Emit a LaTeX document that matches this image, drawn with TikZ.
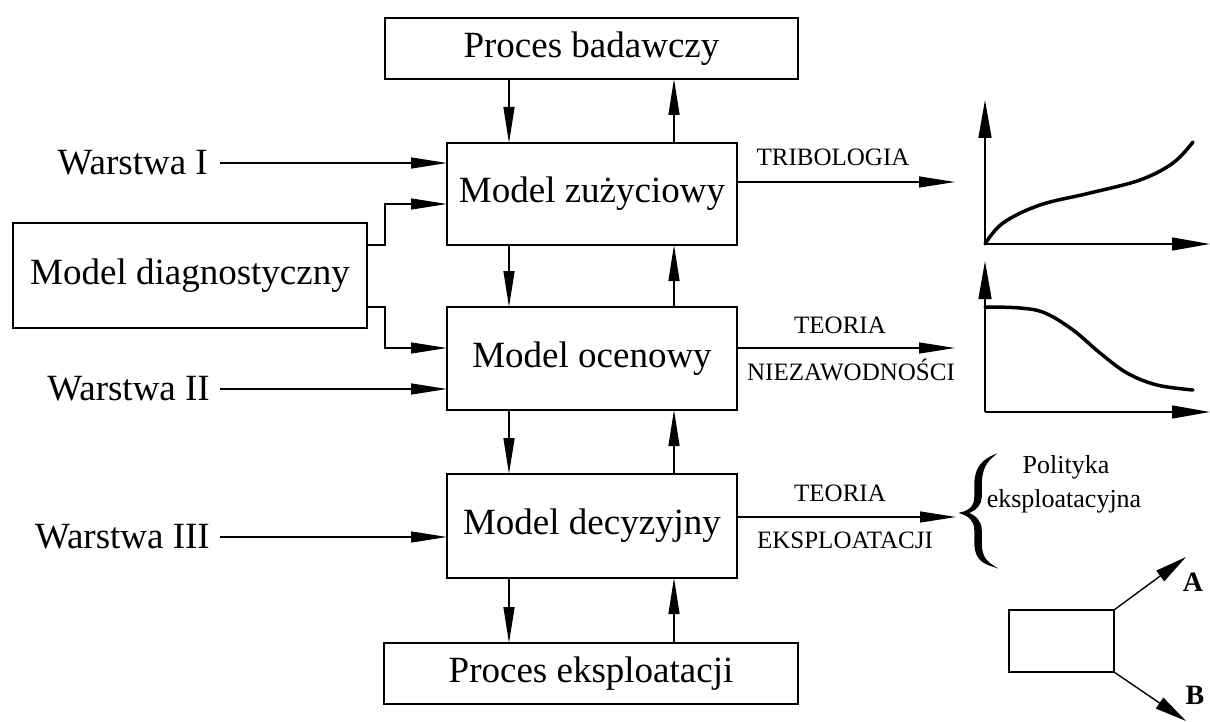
\documentclass[tikz,border=0pt]{standalone}
\usepackage{fontspec}
\setmainfont{Liberation Serif}
\usetikzlibrary{arrows.meta}
\newcommand{\bigfnt}{\fontsize{37}{40}\selectfont}
\newcommand{\smallfnt}{\fontsize{25}{28}\selectfont}
\newcommand{\polfnt}{\fontsize{26}{29}\selectfont}
\tikzset{
  box/.style={draw, line width=1.6pt, inner sep=0pt, outer sep=0pt, font=\bigfnt, fill=white},
  arr/.style={line width=1.3pt, -{Triangle[length=36pt,width=11pt]}},
  axarr/.style={line width=1.4pt, -{Triangle[length=38pt,width=13pt]}},
  abarr/.style={line width=1.4pt, -{Triangle[length=32pt,width=13pt]}},
  curve/.style={line width=3.5pt, line cap=round},
  lbl/.style={font=\smallfnt, inner sep=0pt},
  wlbl/.style={font=\bigfnt, anchor=east, inner sep=0pt},
}
\begin{document}
\begin{tikzpicture}[x=1pt,y=-1pt]
\useasboundingbox (0,0) rectangle (1210,722);
% main boxes
\node[box, minimum width=413pt, minimum height=61pt] (pb) at (591.5,48.5) {Proces badawczy};
\node[box, minimum width=290pt, minimum height=102pt] (mz) at (592,194) {Model zużyciowy};
\node[box, minimum width=290pt, minimum height=103pt] (mo) at (592,358.5) {Model ocenowy};
\node[box, minimum width=290pt, minimum height=104pt] (md) at (592,526) {Model decyzyjny};
\node[box, minimum width=414pt, minimum height=61pt] (pe) at (591,673.5) {Proces eksploatacji};
\node[box, minimum width=354pt, minimum height=105pt] (diag) at (190,275.5) {Model diagnostyczny};
% vertical connector columns
\coordinate (cd) at (509,0);
\coordinate (cu) at (674,0);
\draw[arr] (pb.south -| cd) -- (mz.north -| cd);
\draw[arr] (mz.north -| cu) -- (pb.south -| cu);
\draw[arr] (mz.south -| cd) -- (mo.north -| cd);
\draw[arr] (mo.north -| cu) -- (mz.south -| cu);
\draw[arr] (mo.south -| cd) -- (md.north -| cd);
\draw[arr] (md.north -| cu) -- (mo.south -| cu);
\draw[arr] (md.south -| cd) -- (pe.north -| cd);
\draw[arr] (pe.north -| cu) -- (md.south -| cu);
% Warstwy
\node[wlbl] (w1) at (208,163) {Warstwa I};
\node[wlbl] (w2) at (210,389) {Warstwa II};
\node[wlbl] (w3) at (210,537) {Warstwa III};
\draw[arr] ([xshift=12pt]w1.east) -- (w1.east -| mz.west);
\draw[arr] ([xshift=10pt]w2.east) -- (w2.east -| mo.west);
\draw[arr] ([xshift=10pt]w3.east) -- (w3.east -| md.west);
% diagnostic links
\draw[arr] (diag.east |- 0,245) -- (385,245) -- (385,204) -- (mz.west |- 0,204);
\draw[arr] (diag.east |- 0,307) -- (385,307) -- (385,348) -- (mo.west |- 0,348);
% right arrows
\coordinate (t1) at (955,182);
\coordinate (t2) at (955,348);
\coordinate (t3) at (956,517);
\draw[arr] (mz.east |- t1) -- (t1);
\draw[arr] (mo.east |- t2) -- (t2);
\draw[arr] (md.east |- t3) -- (t3);
\node[lbl] (l1) at (833,157) {TRIBOLOGIA};
\node[lbl] (l2) at (840,325) {TEORIA};
\node[lbl] (l3) at (851,370) {NIEZAWODNOŚCI};
\node[lbl] (l4) at (840,493) {TEORIA};
\node[lbl] (l5) at (845,540) {EKSPLOATACJI};
% graph 1
\coordinate (o1) at (985,244);
\draw[axarr] (o1) -- (985,100);
\draw[axarr] (o1) -- (1210,244);
\draw[curve] plot[smooth, tension=0.6] coordinates {(985,244) (1003,223) (1040,205) (1090,193) (1140,180) (1173,163) (1193,142)};
% graph 2
\coordinate (o2) at (985,412);
\draw[axarr] (o2) -- (985,261);
\draw[axarr] (o2) -- (1210,412);
\draw[curve] plot[smooth, tension=0.6] coordinates {(985,307) (1020,308) (1045,313) (1073,330) (1100,353) (1127,373) (1157,385) (1193,390)};
% brace
\draw[line width=1.5pt, line cap=round, fill=black]
  (993,456) .. controls (979,462) and (975,472) .. (975,486)
  -- (975,497) .. controls (975,506) and (970,511) .. (961,513)
  .. controls (970,516) and (975,521) .. (975,530)
  -- (975,541) .. controls (975,555) and (979,562) .. (993,566)
  .. controls (983,560) and (981,553) .. (981,541)
  -- (981,530) .. controls (981,522) and (976,516) .. (967,513)
  .. controls (976,510) and (981,504) .. (981,497)
  -- (981,486) .. controls (981,474) and (983,464) .. (993,456) -- cycle;
% policy text
\node[font=\polfnt, inner sep=0pt] (pol1) at (1066,467) {Polityka};
\node[font=\polfnt, inner sep=0pt] (pol2) at (1064,501) {eksploatacyjna};
% small box with A/B
\node[draw, line width=1.4pt, minimum width=105pt, minimum height=62pt, inner sep=0pt, outer sep=0pt] (sb) at (1061.5,641) {};
\coordinate (ta) at (1186,557);
\coordinate (tb) at (1186,721);
\draw[abarr] (sb.north east) -- (ta);
\draw[abarr] (sb.south east) -- (tb);
\node[font=\fontsize{28}{30}\selectfont\bfseries, inner sep=0pt] (la) at (1193,582) {A};
\node[font=\fontsize{28}{30}\selectfont\bfseries, inner sep=0pt] (lb) at (1195,695) {B};
\end{tikzpicture}
\end{document}
